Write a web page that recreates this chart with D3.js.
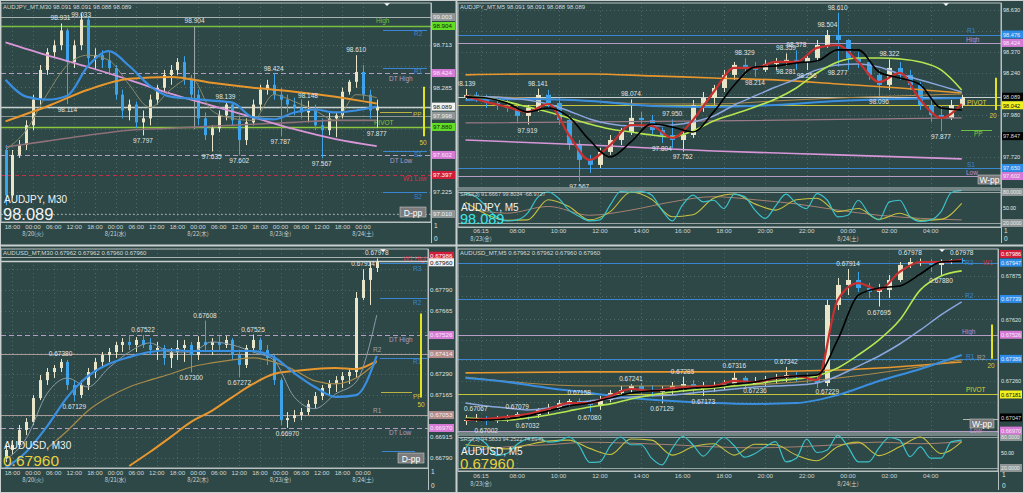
<!DOCTYPE html>
<html><head><meta charset="utf-8">
<script src="https://cdn.jsdelivr.net/npm/d3@7"></script>
<style>html,body{margin:0;padding:0;background:#2d4847;overflow:hidden}svg{display:block}</style>
</head><body><svg id="c" width="1024" height="493"></svg>
<script>
// ================= DATA =================
// AUDJPY M30 (top-left) – 2h candles from 2019-08-19 16:00
const tlStart = new Date(2019,7,19,16,0);
const tlOpen0 = 97.65;
const tlHigh = [97.70,97.65,97.75,97.95,98.21,98.51,98.68,98.76,98.931,98.88,98.76,99.033,98.99,98.68,98.66,98.64,98.51,98.26,98.16,98.14,98.05,98.21,98.31,98.46,98.51,98.58,98.60,98.41,98.26,98.03,97.90,98.05,98.139,98.12,98.00,97.97,98.16,98.31,98.36,98.424,98.28,98.21,98.18,98.16,98.148,98.11,97.97,98.03,98.03,98.28,98.36,98.610,98.51,98.26,98.16];
const tlLow = [97.09,97.16,97.57,97.65,97.85,98.11,98.41,98.58,98.66,98.114,98.48,98.66,98.51,98.46,98.48,98.41,98.16,97.97,97.95,97.87,97.797,97.90,98.11,98.24,98.31,98.41,98.31,98.16,97.90,97.75,97.635,97.83,97.95,97.90,97.602,97.70,97.90,98.05,98.21,98.16,97.787,98.03,98.00,97.97,97.93,97.85,97.567,97.80,97.78,97.97,98.21,98.28,98.16,97.97,97.877];
const tlClose = [97.19,97.60,97.70,97.90,98.16,98.46,98.64,98.71,98.86,98.54,98.71,98.97,98.58,98.61,98.56,98.48,98.21,98.05,98.11,97.93,97.97,98.16,98.28,98.41,98.46,98.54,98.36,98.21,97.97,97.80,97.87,98.00,98.11,97.95,97.75,97.93,98.11,98.26,98.31,98.21,98.16,98.11,98.08,98.03,98.05,97.90,97.85,97.97,98.00,98.24,98.34,98.44,98.21,98.05,98.089];
const tlBlue = [98.36,98.19,98.16,98.20,98.50,98.65,98.50,98.30,98.19,98.17,98.15,98.13,97.98,97.96,98.03,98.06,98.03,98.05,98.09]; // every 3 candles
const tlOlive = [97.65,97.85,98.21,98.51,98.61,98.56,98.31,98.08,98.26,98.38,98.05,97.97,97.95,98.21,98.14,98.05,97.95,98.21,98.18]; // every 3
const tlPink = [98.74,98.61,98.49,98.36,98.22,98.10,97.98,97.86,97.76,97.69]; // every 6
const tlOrange = [97.94,98.09,98.26,98.37,98.39,98.33,98.28,98.24,98.19,98.12]; // every 6
const tlMauve = [97.68,97.74,97.80,97.85,97.87,97.89,97.91,97.93,97.95,97.95]; // every 6
const tlPeaks = [[8,'h',98.931],[11,'h',99.033],[9,'l',98.114],[20,'l',97.797],[30,'l',97.635],[32,'h',98.139],[34,'l',97.602],[39,'h',98.424],[40,'l',97.787],[44,'h',98.148],[46,'l',97.567],[51,'h',98.610],[54,'l',97.877]];
const tlLevels = [['top',98.996],['High',98.905],['DT High',98.429],['Bid',98.089],['PPg',97.998],['PIVOT',97.883],['DT Low',97.600],['W1 Low',97.397],['base',97.002]];
const tlPivots = [['R2',98.864],['R1',98.480],['PP',98.035],['S1',97.640],['S2',97.225]];
const tlRange = [97.79,98.29];
const tlTicks = [98.713,98.500,98.285,98.070,97.860,97.650,97.435,97.225,97.010];
const tlBoxes = [['99.003',98.996,'grey'],['98.904',98.905,'green'],['98.424',98.429,'pink'],['98.089',98.089,'white'],['97.998',97.998,'grey'],['97.880',97.883,'green'],['97.602',97.600,'pink'],['97.397',97.397,'red'],['97.010',97.002,'grey']];
const tlVLine = [new Date(2019,7,21,23,0),98.904,97.86];

// AUDUSD M30 (bottom-left)
const blStart = new Date(2019,7,19,16,0);
const blOpen0 = 0.66790;
const blHigh = [0.66868,0.66897,0.66987,0.67028,0.67165,0.67284,0.67326,0.67344,0.67380,0.67374,0.67254,0.67254,0.67326,0.67385,0.67421,0.67445,0.67481,0.67504,0.67516,0.67510,0.67522,0.67504,0.67481,0.67463,0.67445,0.67493,0.67493,0.67481,0.67515,0.67608,0.67504,0.67516,0.67516,0.67504,0.67433,0.67463,0.67525,0.67505,0.67463,0.67403,0.67266,0.67064,0.67076,0.67088,0.67135,0.67183,0.67225,0.67254,0.67278,0.67302,0.67326,0.67778,0.67914,0.67957,0.67978];
const blLow = [0.66766,0.66808,0.66850,0.66927,0.66987,0.67135,0.67225,0.67266,0.67302,0.67195,0.67129,0.67147,0.67195,0.67266,0.67326,0.67362,0.67385,0.67421,0.67433,0.67421,0.67445,0.67403,0.67374,0.67344,0.67326,0.67374,0.67362,0.67300,0.67374,0.67433,0.67403,0.67421,0.67445,0.67374,0.67272,0.67326,0.67421,0.67403,0.67344,0.67225,0.66987,0.66970,0.67005,0.67016,0.67046,0.67088,0.67135,0.67165,0.67183,0.67207,0.67231,0.67266,0.67731,0.67701,0.67897];
const blClose = [0.66838,0.66868,0.66957,0.67005,0.67147,0.67254,0.67302,0.67326,0.67362,0.67225,0.67165,0.67225,0.67302,0.67362,0.67403,0.67421,0.67463,0.67481,0.67463,0.67493,0.67463,0.67433,0.67445,0.67385,0.67421,0.67445,0.67463,0.67403,0.67481,0.67463,0.67481,0.67463,0.67493,0.67403,0.67344,0.67445,0.67493,0.67433,0.67385,0.67254,0.67016,0.67028,0.67046,0.67064,0.67112,0.67159,0.67207,0.67231,0.67254,0.67278,0.67302,0.67743,0.67850,0.67921,0.67960];
const blBlue = [0.66731,0.66826,0.66976,0.67153,0.67278,0.67350,0.67391,0.67421,0.67433,0.67427,0.67427,0.67427,0.67427,0.67391,0.67296,0.67213,0.67154,0.67165,0.67398]; // every 3
const blOrange = [0.66743,0.66826,0.66915,0.67005,0.67071,0.67153,0.67231,0.67290,0.67308,0.67320,0.67326,0.67320,0.67368]; // every 3 from 18
const blOlive = [0.66846,0.66953,0.67072,0.67153,0.67213,0.67254,0.67290,0.67332,0.67356,0.67374,0.67386,0.67362,0.67314,0.67249,0.67231,0.67266,0.67362]; // every 3 from 6
const blGrey = [0.66779,0.66906,0.67171,0.67266,0.67213,0.67326,0.67421,0.67475,0.67421,0.67421,0.67481,0.67463,0.67421,0.67374,0.67153,0.67084,0.67171,0.67243,0.67641]; // every 3
const blPeaks = [[8,'h',0.67380],[10,'l',0.67129],[20,'h',0.67522],[27,'l',0.67300],[29,'h',0.67608],[34,'l',0.67272],[36,'h',0.67525],[41,'l',0.66970],[52,'h',0.67914],[54,'h',0.67978]];
const blLevels = [['W1 High',0.67987],['Bid',0.67960],['DT High',0.67522],['R2g',0.67409],['R1g',0.67046],['DT Low',0.66969]];
const blPivots = [['R3',0.67951],['R2',0.67742],['R1',0.67385],['PP',0.67183],['S',0.66832]];
const blRange = [0.67150,0.67650];
const blTicks = [0.67915,0.67790,0.67665,0.67540,0.67415,0.67290,0.67165,0.67040,0.66915,0.66790];
const blBoxes = [['0.67986',0.67994,'red'],['0.67960',0.67955,'white'],['0.67526',0.67522,'pink'],['0.67414',0.67409,'rose'],['0.67053',0.67046,'rose'],['0.66970',0.66969,'pink']];

// AUDJPY M5 (top-right) – 30 min candles from 2019-08-23 05:30
const trStart = new Date(2019,7,23,5,30);
const trOpen0 = 98.090;
const trHigh = [98.139,98.120,98.102,98.083,98.071,98.046,98.040,98.141,98.133,98.083,97.978,97.823,97.731,97.774,97.854,97.898,98.074,97.997,97.978,97.900,97.950,97.885,98.071,98.120,98.164,98.257,98.306,98.329,98.306,98.319,98.331,98.359,98.378,98.350,98.442,98.504,98.610,98.446,98.368,98.331,98.257,98.322,98.306,98.257,98.182,98.071,98.040,98.071,98.102];
const trLow = [98.071,98.059,98.021,98.009,97.997,97.935,97.919,97.997,98.021,97.916,97.762,97.567,97.619,97.650,97.731,97.792,97.854,97.898,97.854,97.804,97.774,97.752,97.836,97.997,98.040,98.120,98.195,98.226,98.214,98.244,98.257,98.281,98.257,98.256,98.306,98.393,98.277,98.257,98.269,98.195,98.096,98.133,98.195,98.133,98.009,97.935,97.877,97.947,98.021];
const trClose = [98.102,98.083,98.052,98.034,98.021,97.972,98.021,98.102,98.052,97.947,97.792,97.700,97.669,97.749,97.823,97.873,97.960,97.947,97.885,97.854,97.823,97.854,98.040,98.083,98.145,98.226,98.288,98.269,98.257,98.294,98.306,98.319,98.306,98.331,98.411,98.473,98.442,98.331,98.306,98.226,98.164,98.269,98.226,98.164,98.040,97.978,97.960,98.040,98.089];
const trBlack = [98.090,98.083,98.052,97.997,98.021,97.966,97.823,97.718,97.811,97.922,97.904,97.873,97.997,98.164,98.275,98.281,98.300,98.312,98.381,98.381,98.244,98.207,98.164,98.021,98.009]; // every 2
const trRed = [98.096,98.059,98.028,97.997,98.046,97.854,97.700,97.792,97.916,97.910,97.836,97.947,98.120,98.269,98.269,98.306,98.306,98.393,98.411,98.306,98.182,98.238,98.071,97.960,98.046];
const trLime = [98.090,98.083,98.059,98.028,97.997,97.960,97.922,97.891,97.873,97.854,97.842,97.879,97.941,97.984,98.028,98.077,98.145,98.238,98.306,98.331,98.331,98.325,98.306,98.257,98.133];
const trSteel = [98.090,98.090,98.083,98.071,98.046,98.003,97.953,97.922,97.910,97.910,97.916,97.935,97.972,98.040,98.096,98.151,98.201,98.257,98.288,98.294,98.275,98.232,98.195,98.158,98.120];
const trOrange = [98.226,98.232,98.232,98.220,98.207,98.195,98.170,98.145,98.114]; // every 6
const trBrown = [98.096,98.083,98.065,98.046,98.046,98.065,98.083,98.096,98.108];
const trBlue = [98.071,98.077,98.065,98.034,98.028,98.040,98.065,98.077,98.083];
const trPink = [97.823,97.792,97.755,97.731,97.706]; // every 12
const trMauve = [97.929,97.941,97.960]; // every 24
const trPeaks = [[0,'h',98.139],[6,'l',97.919],[7,'h',98.141],[11,'l',97.567],[16,'h',98.074],[19,'l',97.804],[20,'h',97.950],[21,'l',97.752],[27,'h',98.329],[28,'l',98.214],[31,'h',98.359],[31,'l',98.281],[32,'h',98.378],[33,'l',98.256],[35,'h',98.504],[36,'h',98.610],[36,'l',98.277],[40,'l',98.096],[41,'h',98.322],[46,'l',97.877]];
const trLevels = [['R1',98.476],['High',98.424],['Bid',98.089],['PIVOT',98.042],['S1',97.650],['Low',97.602]];
const trPivots = [['PP',97.885]];
const trRange = [98.009,98.209];
const trTicks = [98.630,98.500,98.370,98.240,98.110,97.980,97.850,97.720];
const trBoxes = [['98.476',98.476,'blue'],['98.424',98.424,'pink'],['98.089',98.091,'black'],['98.042',98.038,'yellow'],['97.847',97.847,'black'],['97.650',97.650,'blue'],['97.602',97.600,'pink']];
const trCyan = [77,71,52,32,24,26,39,70,80,68,45,33,24,26,55,81,80,81,74,45,24,55,74,61,64,48,76,71,45,29,53,76,58,48,77,64,32,35,64,39,26,61,64,32,23,26,42,79,83];
const trYellow = [60,37,25,26,65,52,26,42,80,66,32,36,68,76,57,45,65,68,42,48,27,39,25,27,58]; // every 2
const trSlow = [48,39,52,35,45,61,71,65,57,45,35,29,26]; // every 4

// AUDUSD M5 (bottom-right)
const brStart = new Date(2019,7,23,5,30);
const brOpen0 = 0.67032;
const brHigh = [0.67061,0.67067,0.67055,0.67056,0.67062,0.67079,0.67070,0.67102,0.67126,0.67149,0.67155,0.67158,0.67150,0.67173,0.67207,0.67231,0.67241,0.67248,0.67236,0.67231,0.67254,0.67285,0.67266,0.67254,0.67254,0.67266,0.67316,0.67289,0.67283,0.67289,0.67301,0.67342,0.67313,0.67307,0.67289,0.67733,0.67862,0.67914,0.67897,0.67833,0.67827,0.67879,0.67955,0.67978,0.67975,0.67972,0.67970,0.67972,0.67978];
const brLow = [0.67003,0.67021,0.67002,0.67015,0.67021,0.67032,0.67032,0.67044,0.67067,0.67091,0.67108,0.67120,0.67080,0.67091,0.67137,0.67173,0.67190,0.67184,0.67167,0.67129,0.67178,0.67196,0.67184,0.67173,0.67196,0.67207,0.67231,0.67219,0.67236,0.67231,0.67242,0.67254,0.67254,0.67248,0.67219,0.67229,0.67675,0.67762,0.67780,0.67745,0.67695,0.67745,0.67838,0.67920,0.67932,0.67897,0.67880,0.67943,0.67949];
const brClose = [0.67032,0.67044,0.67026,0.67038,0.67050,0.67067,0.67061,0.67091,0.67102,0.67131,0.67143,0.67137,0.67120,0.67149,0.67190,0.67207,0.67231,0.67207,0.67196,0.67207,0.67231,0.67242,0.67213,0.67219,0.67231,0.67242,0.67278,0.67242,0.67254,0.67272,0.67278,0.67295,0.67283,0.67272,0.67248,0.67704,0.67821,0.67850,0.67803,0.67780,0.67792,0.67850,0.67938,0.67955,0.67955,0.67938,0.67961,0.67967,0.67960];
const brBlack = [0.67038,0.67032,0.67038,0.67056,0.67085,0.67114,0.67131,0.67161,0.67190,0.67202,0.67207,0.67219,0.67225,0.67242,0.67254,0.67277,0.67289,0.67295,0.67500,0.67762,0.67803,0.67815,0.67885,0.67955,0.67961];
const brRed = [0.67032,0.67038,0.67050,0.67067,0.67096,0.67131,0.67131,0.67173,0.67213,0.67202,0.67219,0.67225,0.67231,0.67260,0.67254,0.67277,0.67289,0.67266,0.67733,0.67832,0.67792,0.67897,0.67955,0.67955,0.67967];
const brLime = [0.67044,0.67038,0.67032,0.67044,0.67061,0.67085,0.67108,0.67126,0.67155,0.67178,0.67196,0.67207,0.67219,0.67231,0.67242,0.67260,0.67272,0.67289,0.67336,0.67412,0.67500,0.67616,0.67792,0.67873,0.67903];
const brSteel = [0.67131,0.67114,0.67102,0.67091,0.67102,0.67126,0.67143,0.67155,0.67167,0.67173,0.67178,0.67190,0.67202,0.67213,0.67225,0.67231,0.67236,0.67248,0.67289,0.67347,0.67406,0.67476,0.67558,0.67646,0.67722];
const brBlue = [0.67277,0.67254,0.67219,0.67190,0.67161,0.67143,0.67131,0.67126,0.67131,0.67178,0.67260,0.67330,0.67412]; // every 4
const brOrange = [0.67307,0.67313,0.67313,0.67324,0.67371]; // every 12
const brBrown = [0.67283,0.67231,0.67231,0.67277,0.67383];
const brPeaks = [[1,'h',0.67067],[2,'l',0.67002],[5,'h',0.67079],[6,'l',0.67032],[11,'h',0.67158],[12,'l',0.67080],[16,'h',0.67241],[19,'l',0.67129],[21,'h',0.67285],[23,'l',0.67173],[26,'h',0.67316],[28,'l',0.67236],[31,'h',0.67342],[35,'l',0.67229],[37,'h',0.67914],[40,'l',0.67695],[43,'h',0.67978],[46,'l',0.67880],[48,'h',0.67978]];
const brLevels = [['R3',0.67951],['R2',0.67739],['High',0.67526],['R1',0.67389],['PIVOT',0.67181],['Low',0.66970]];
const brPivots = [['Lg',0.67038]];
const brRange = [0.67390,0.67590];
const brTicks = [0.67875,0.67755,0.67620,0.67500,0.67380,0.67260,0.67140];
const brBoxes = [['0.67986',0.68002,'red'],['0.67947',0.67951,'blue'],['0.67739',0.67739,'blue'],['0.67526',0.67530,'pink'],['0.67389',0.67389,'blue'],['0.67181',0.67181,'yellow'],['0.67047',0.67047,'black'],['0.66970',0.66970,'pink']];
const brCyan = [58,79,67,44,48,66,77,79,70,72,80,63,31,32,63,80,65,65,39,26,58,81,65,43,63,79,63,41,48,61,71,32,39,76,50,55,83,61,32,32,59,79,74,42,61,39,39,71,74];
const brYellow = [65,61,57,65,72,74,58,46,76,74,45,61,67,45,66,65,45,34,61,70,44,61,80,48,71];
const brSlow = [52,61,65,70,68,65,61,59,61,65,70,67,71];
const weekdays = ['日','月','火','水','木','金','土'];

// ================= RENDER =================
const UP='#e9e5c9', DN='#3da3ea';
const FONT='"Liberation Sans","DejaVu Sans",Arial,sans-serif';
const CJK='"Noto Sans CJK JP","Liberation Sans",sans-serif';
const BOX={grey:['#8d9595','#f0f0f0'],green:['#62dc24','#102010'],pink:['#d67ad6','#f4eaf4'],white:['#f2f2f2','#111'],red:['#d01e3a','#fff'],blue:['#2b8be6','#eef'],yellow:['#f2f020','#111'],black:['#000','#ddd'],rose:['#b48c8c','#f4eeee']};
const svg=d3.select('#c');
const defs=svg.append('defs');
svg.append('rect').attr('width',1024).attr('height',493).attr('fill','#2d4847');

function T(g,x,y,s,col,size,anchor,font,weight){
  return g.append('text').attr('x',x).attr('y',y).text(s).attr('fill',col||'#d8dcdc')
    .attr('font-size',size||7).attr('text-anchor',anchor||'start').attr('font-family',font||FONT).attr('font-weight',weight||'normal');
}
function mk(open0,H,L,C,start,stepMin){
  return C.map((c,i)=>({t:new Date(+start+i*stepMin*60000),o:i?C[i-1]:open0,h:H[i],l:L[i],c}));
}
const leftT=d3.scaleTime().domain([new Date(2019,7,19,14,24),new Date(2019,7,24,0,0)]).range([0,363]);
const rightT=d3.scaleTime().domain([new Date(2019,7,24,0,0),new Date(2019,7,24,4,0)]).range([848,930.7]);
const leftTicks=d3.timeHour.every(6).range(new Date(2019,7,19,18),new Date(2019,7,24,1));
const rightTicks=[new Date(2019,7,23,6,15)].concat(d3.timeHour.every(2).range(new Date(2019,7,23,8),new Date(2019,7,24,5)));
const fmtH=d3.timeFormat('%H:%M');
const dateLbl=d=>`${d.getMonth()+1}/${d.getDate()}(${weekdays[d.getDay()]})`;

function panel(c){
  const g=svg.append('g');
  const P=c.plot, x=c.x, fs=c.axisFont;
  const y=d3.scaleLinear().domain(c.pDomain).range([P.y0,P.y1]);
  defs.append('clipPath').attr('id','cp'+c.id).append('rect').attr('x',P.x0).attr('y',P.y0).attr('width',P.x1-P.x0).attr('height',P.y1-P.y0);
  const inner=g.append('g').attr('clip-path',`url(#cp${c.id})`);
  const cs=c.candles;
  inner.append('g').selectAll('line').data(c.ticks).join('line')
    .attr('x1',P.x0).attr('x2',P.x1).attr('y1',d=>Math.round(y(d))+.5).attr('y2',d=>Math.round(y(d))+.5)
    .attr('stroke','#4d6a68').attr('stroke-dasharray','1,3');
  inner.append('g').selectAll('line').data(c.timeTicks).join('line')
    .attr('x1',d=>Math.round(x(d))+.5).attr('x2',d=>Math.round(x(d))+.5).attr('y1',P.y0).attr('y2',P.y1)
    .attr('stroke','#4d6a68').attr('stroke-dasharray','1,3');
  c.levels.forEach(([name,p])=>{
    const s=c.lstyle[name]||{color:'#999'};
    inner.append('line').attr('x1',s.x0??P.x0).attr('x2',s.x1??P.x1).attr('y1',Math.round(y(p))+.5).attr('y2',Math.round(y(p))+.5)
      .attr('stroke',s.color).attr('stroke-width',s.w||1).attr('stroke-dasharray',s.dash||null);
    if(s.label) T(inner,s.lx,y(p)+s.dy,s.label,s.lc||s.color,6.5);
  });
  if(c.vline){
    inner.append('line').attr('x1',x(c.vline[0])).attr('x2',x(c.vline[0])).attr('y1',y(c.vline[1])).attr('y2',y(c.vline[2])).attr('stroke','#a0aaaa');
    T(inner,x(c.vline[0]),y(c.vline[1])-3,d3.format('.3f')(c.vline[1]),'#e0e0e0',6.5,'middle');
  }
  inner.append('g').selectAll('line').data(cs).join('line')
    .attr('x1',d=>Math.round(x(d.t))+.5).attr('x2',d=>Math.round(x(d.t))+.5).attr('y1',d=>y(d.h)).attr('y2',d=>y(d.l))
    .attr('stroke',d=>d.c>=d.o?UP:DN);
  inner.append('g').selectAll('rect').data(cs).join('rect')
    .attr('x',d=>Math.round(x(d.t))+.5-c.bw/2).attr('y',d=>y(Math.max(d.o,d.c)))
    .attr('width',c.bw).attr('height',d=>Math.max(1,Math.abs(y(d.o)-y(d.c)))).attr('fill',d=>d.c>=d.o?UP:DN);
  c.mas.forEach(m=>{
    const pts=m.vals.map((v,k)=>({t:cs[(m.start||0)+k*m.step].t,v}));
    inner.append('path').datum(pts).attr('d',d3.line().x(p=>x(p.t)).y(p=>y(p.v)).curve(d3.curveMonotoneX))
      .attr('fill','none').attr('stroke',m.color).attr('stroke-width',m.w).attr('stroke-linejoin','round');
  });
  c.peaks.forEach(([i,type,v])=>{
    const ly=type==='h'?Math.max(y(v)-3,c.peakMinY):y(v)+8;
    T(inner,x(cs[i].t),ly,d3.format(c.fmt)(v),'#e2e4e4',6.5,'middle');
  });
  g.append('line').attr('x1',c.barX).attr('x2',c.barX).attr('y1',y(c.range[0])).attr('y2',y(c.range[1])).attr('stroke','#e4e41e').attr('stroke-width',2);
  T(g,c.barX+c.barLx,y(c.range[0])+c.barLy,c.rangeLabel,'#d8d03a',6.5,'middle');
  (c.extra||[]).forEach(e=>T(g,e[0],y(e[1])+e[2],e[3],e[4],6.5));
  const b=c.btn; g.append('rect').attr('x',b[0]).attr('y',b[1]).attr('width',b[2]).attr('height',b[3]).attr('fill','#7c7c7c').attr('stroke','#c8c8c8').attr('stroke-width',.6);
  T(g,b[0]+b[2]/2,b[1]+b[3]-1.5,b[4],'#ffffff',8.5,'middle');
  g.append('path').attr('d',`M${c.mark-3},${P.y0}L${c.mark+3},${P.y0}L${c.mark},${P.y0+3}Z`).attr('fill','#ffffff');
  if(c.osc){
    const O=c.osc;
    const yo=d3.scaleLinear().domain([80,20]).range([O.y80,O.y20]);
    defs.append('clipPath').attr('id','co'+c.id).append('rect').attr('x',P.x0).attr('y',O.y0).attr('width',P.x1-P.x0).attr('height',O.y1-O.y0);
    const og=g.append('g').attr('clip-path',`url(#co${c.id})`);
    og.append('g').selectAll('line').data(c.timeTicks).join('line')
      .attr('x1',d=>Math.round(x(d))+.5).attr('x2',d=>Math.round(x(d))+.5).attr('y1',O.y0).attr('y2',O.y1)
      .attr('stroke','#4d6a68').attr('stroke-dasharray','1,3');
    [80,20].forEach(v=>og.append('line').attr('x1',P.x0).attr('x2',P.x1).attr('y1',Math.round(yo(v))+.5).attr('y2',Math.round(yo(v))+.5).attr('stroke','#9aa4a4'));
    O.series.forEach(s=>{
      const pts=s.vals.map((v,k)=>({t:cs[k*s.step].t,v}));
      og.append('path').datum(pts).attr('d',d3.line().x(p=>x(p.t)).y(p=>yo(p.v)).curve(d3.curveMonotoneX))
        .attr('fill','none').attr('stroke',s.color).attr('stroke-width',s.w);
    });
    T(g,P.x0+2,O.y0+6,O.label,'#d0d4d4',5.5);
    g.append('rect').attr('x',P.x0).attr('y',O.y0).attr('width',P.x1-P.x0).attr('height',O.y1-O.y0).attr('fill','none').attr('stroke','#b7bfbf');
    [[80,'80.0000',true],[50,'50.00',false],[20,'20.0000',true]].forEach(([v,s,box])=>{
      if(box) g.append('rect').attr('x',c.axisX-1).attr('y',yo(v)-4).attr('width',c.boxW).attr('height',8).attr('fill','#8d9595');
      T(g,c.axisX,yo(v)+2.2,s,'#eeeeee',fs-0.4);
    });
  }
  g.append('rect').attr('x',P.x0).attr('y',P.y0).attr('width',P.x1-P.x0).attr('height',P.y1-P.y0).attr('fill','none').attr('stroke','#b7bfbf');
  g.append('line').attr('x1',P.x0).attr('x2',P.x1).attr('y1',c.subY+.5).attr('y2',c.subY+.5).attr('stroke','#b7bfbf');
  g.append('line').attr('x1',P.x1+.5).attr('x2',P.x1+.5).attr('y1',P.y0).attr('y2',c.bottom).attr('stroke','#b7bfbf');
  const boxY=c.boxes.map(b=>y(b[1]));
  c.ticks.filter(v=>boxY.every(by=>Math.abs(by-y(v))>8)).forEach(v=>T(g,c.axisX,y(v)+2.3,d3.format(c.fmt)(v),'#dfe3e3',fs));
  c.boxes.forEach(([s,p,k])=>{
    g.append('rect').attr('x',c.axisX-1).attr('y',y(p)-4).attr('width',c.boxW).attr('height',8).attr('fill',BOX[k][0]);
    T(g,c.axisX,y(p)+2.3,s,BOX[k][1],fs);
  });
  T(g,c.axisX+1,c.subY+6,'1','#dfe3e3',6.5);
  T(g,c.axisX+1,c.bottom-2,'0','#dfe3e3',6.5);
  c.timeTicks.forEach(d=>{
    T(g,x(d),c.timeY,fmtH(d),'#cfd6d6',6.2,'middle');
    if(c.dateAt(d)) T(g,x(d),c.timeY+7.5,dateLbl(d),'#cfd6d6',5.8,'middle',CJK);
  });
  T(g,P.x0+2,P.y0+6,c.title,'#d4d8d8',6);
  T(g,c.sym[0],c.sym[1],c.sym[2],'#f2f2f2',c.sym[3]);
  T(g,c.px[0],c.px[1],c.px[2],c.px[3],c.px[4]);
}

const BL1='#3a86d0', PK='#b49cc4', YL='#c8c040';
panel({id:'tl',plot:{x0:1,x1:431,y0:3,y1:222},pDomain:[99.138,96.921],x:leftT,timeTicks:leftTicks,peakMinY:17,
  dateAt:d=>d.getHours()===0,timeY:228.5,subY:222,bottom:243,axisX:433,boxW:23,axisFont:6.2,bw:3,fmt:'.3f',
  candles:mk(tlOpen0,tlHigh,tlLow,tlClose,tlStart,120),ticks:tlTicks,boxes:tlBoxes,peaks:tlPeaks,vline:tlVLine,
  levels:tlLevels.concat(tlPivots),
  lstyle:{top:{color:'#a9b1b1'},High:{color:'#78c040',w:1.3,label:'High',lx:376,dy:-3},'DT High':{color:PK,dash:'5,3',label:'DT High',lx:389,dy:8},
    Bid:{color:'#c9d0d0',w:1.3},PPg:{color:'#8b9797'},PIVOT:{color:'#8cc63f',w:1.3,label:'PIVOT',lx:374,dy:-2},'DT Low':{color:PK,dash:'5,3',label:'DT Low',lx:390,dy:8},
    'W1 Low':{color:'#c43048',dash:'4,3',label:'W1 Low',lx:403,dy:6,lc:'#d8304a'},base:{color:'#8b9797',dash:'2,2'},
    R2:{color:BL1,x0:383,x1:427,label:'R2',lx:414,dy:6},R1:{color:BL1,x0:383,x1:427,label:'R1',lx:414,dy:6},PP:{color:'#b8b040',x0:380,x1:412,label:'PP',lx:413,dy:5,lc:YL},
    S1:{color:BL1,x0:383,x1:427,label:'S1',lx:414,dy:6},S2:{color:BL1,x0:383,x1:427,label:'S2',lx:414,dy:7}},
  mas:[{vals:tlMauve,step:6,color:'#8e7078',w:1.6},{vals:tlPink,step:6,color:'#d896d8',w:1.8},{vals:tlOlive,step:3,color:'#8c8a6a',w:1},
    {vals:tlOrange,step:6,color:'#e8962e',w:2},{vals:tlBlue,step:3,color:'#3a8ee0',w:2.2}],
  range:tlRange,rangeLabel:'50',barX:424,barLx:-1,barLy:9,btn:[400,207,26,10,'D-pp'],mark:387,
  title:'AUDJPY_MT,M30  98.091 98.091 98.088 98.089',sym:[4,202.5,'AUDJPY, M30',10],px:[3,219.5,'98.089','#f2f2f2',16.5]});

panel({id:'bl',plot:{x0:1,x1:428,y0:249,y1:468},pDomain:[0.68034,0.66731],x:leftT,timeTicks:leftTicks,peakMinY:255,
  dateAt:d=>d.getHours()===0,timeY:474.5,subY:468,bottom:490,axisX:430,boxW:25,axisFont:6.2,bw:3,fmt:'.5f',
  candles:mk(blOpen0,blHigh,blLow,blClose,blStart,120),ticks:blTicks,boxes:blBoxes,peaks:blPeaks,
  levels:blLevels.concat(blPivots),
  lstyle:{'W1 High':{color:'#a9b1b1',label:'W1 High',lx:403,dy:4,lc:'#d8304a'},Bid:{color:'#c9d0d0',w:1.3},'DT High':{color:PK,dash:'5,3',label:'DT High',lx:389,dy:7},
    R2g:{color:'#a99a9a',label:'R2',lx:373,dy:-2,lc:'#a8a0a0'},R1g:{color:'#a99a9a',label:'R1',lx:373,dy:-2,lc:'#a8a0a0'},'DT Low':{color:PK,dash:'5,3',label:'DT Low',lx:389,dy:7},
    R3:{color:BL1,x0:380,x1:427,label:'R3',lx:413,dy:8},R2:{color:BL1,x0:380,x1:427,label:'R2',lx:413,dy:7},R1:{color:BL1,x0:380,x1:427,label:'R1',lx:413,dy:6},
    PP:{color:'#b8b040',x0:381,x1:412,label:'PP',lx:413,dy:7,lc:YL},S:{color:BL1,x0:382,x1:415}},
  mas:[{vals:blOrange,step:3,start:18,color:'#e8962e',w:2},{vals:blOlive,step:3,start:6,color:'#a88a4a',w:1.2},
    {vals:blGrey,step:3,color:'#8a9aa6',w:1},{vals:blBlue,step:3,color:'#3a8ee0',w:2.2}],
  range:blRange,rangeLabel:'50',barX:421,barLx:0,barLy:9,btn:[398,453,26,10,'D-pp'],mark:383,
  title:'AUDUSD_MT,M30  0.67962 0.67962 0.67960 0.67960',sym:[4,449,'AUDUSD, M30',10],px:[3,465.5,'0.67960','#e8d040',15.5]});

panel({id:'tr',plot:{x0:458,x1:1001,y0:3,y1:188},pDomain:[98.671,97.526],x:rightT,timeTicks:rightTicks,peakMinY:9,
  dateAt:d=>d.getMinutes()===15||d.getHours()===0,timeY:233,subY:227,bottom:243,axisX:1003,boxW:21,axisFont:5.6,bw:5,fmt:'.3f',
  candles:mk(trOpen0,trHigh,trLow,trClose,trStart,30),ticks:trTicks,boxes:trBoxes,peaks:trPeaks,
  levels:trLevels.concat(trPivots),
  lstyle:{R1:{color:BL1,label:'R1',lx:967,dy:-2},High:{color:PK,label:'High',lx:966,dy:-1,lc:'#c88ad0'},Bid:{color:'#c9d0d0',w:1.2},
    PIVOT:{color:'#c8c43a',w:1.2,label:'PIVOT',lx:967,dy:0,lc:'#d8d43a'},S1:{color:BL1,label:'S1',lx:967,dy:-1},Low:{color:PK,label:'Low',lx:966,dy:-1,lc:'#c88ad0'},
    PP:{color:'#6cc040',x0:961,x1:992,label:'PP',lx:974,dy:6,lc:'#8cc63f'}},
  mas:[{vals:trPink,step:12,color:'#d896d8',w:1.6},{vals:trMauve,step:24,color:'#9a7a86',w:1.2},{vals:trOrange,step:6,color:'#e8962e',w:1.6},
    {vals:trBrown,step:6,color:'#b08a4a',w:1},{vals:trBlue,step:6,color:'#3a8ee0',w:2},{vals:trSteel,step:2,color:'#8aa6dc',w:1.5},
    {vals:trLime,step:2,color:'#b6e650',w:1.6},{vals:trRed,step:2,color:'#c83030',w:2.2},{vals:trBlack,step:2,color:'#000000',w:1.6}],
  range:trRange,rangeLabel:'20',barX:996,barLx:-3,barLy:8,btn:[978,175,23,9,'W-pp'],mark:946,
  osc:{y0:190,y1:227,y80:192,y20:223,label:'SRSI(3) 91.6667 99.8034 -68.9727',
    series:[{vals:trSlow,step:4,color:'#a88070',w:1},{vals:trYellow,step:2,color:'#c8c040',w:1.1},{vals:trCyan,step:1,color:'#3cc0c8',w:1.2}]},
  title:'AUDJPY_MT,M5  98.091 98.091 98.088 98.089',sym:[461,211,'AUDJPY, M5',10],px:[460,224,'98.089','#3ee6e6',14.5]});

panel({id:'br',plot:{x0:458,x1:998,y0:249,y1:433},pDomain:[0.68031,0.66956],x:rightT,timeTicks:rightTicks,peakMinY:255,
  dateAt:d=>d.getMinutes()===15||d.getHours()===0,timeY:478,subY:471,bottom:490,axisX:1001,boxW:22,axisFont:5.6,bw:5,fmt:'.5f',
  candles:mk(brOpen0,brHigh,brLow,brClose,brStart,30),ticks:brTicks,boxes:brBoxes,peaks:brPeaks,
  levels:brLevels.concat(brPivots),
  lstyle:{R3:{color:BL1,label:'R3',lx:965,dy:2},R2:{color:BL1,label:'R2',lx:965,dy:-1},High:{color:PK,label:'High',lx:962,dy:-1,lc:'#c88ad0'},
    R1:{color:BL1,label:'R1',lx:966,dy:0},PIVOT:{color:'#c8c43a',w:1.2,label:'PIVOT',lx:966,dy:-2,lc:'#d8d43a'},Low:{color:PK,label:'Low',lx:970,dy:2,lc:'#c88ad0'},
    Lg:{color:'#b0b8b8',x0:963,x1:998}},
  extra:[[983,0.67951,2,'W1','#d8304a'],[977,0.67389,1,'R2','#a8a0a0']],
  mas:[{vals:brOrange,step:12,color:'#e8962e',w:1.6},{vals:brBrown,step:12,color:'#b08a4a',w:1},{vals:brBlue,step:4,color:'#3a8ee0',w:2},
    {vals:brSteel,step:2,color:'#8aa6dc',w:1.5},{vals:brLime,step:2,color:'#b6e650',w:1.6},{vals:brRed,step:2,color:'#c83030',w:2.2},{vals:brBlack,step:2,color:'#000000',w:1.6}],
  range:brRange,rangeLabel:'20',barX:992,barLx:-1,barLy:9,btn:[970,419,24,9,'W-pp'],mark:942,
  osc:{y0:435,y1:471,y80:437,y20:468,label:'SRSI(3) 94.5833 94.2522 74.8941',
    series:[{vals:brSlow,step:4,color:'#a88070',w:1},{vals:brYellow,step:2,color:'#c8c040',w:1.1},{vals:brCyan,step:1,color:'#3cc0c8',w:1.2}]},
  title:'AUDUSD_MT,M5  0.67962 0.67962 0.67960 0.67960',sym:[461,455,'AUDUSD, M5',10],px:[460,469,'0.67960','#e8d040',15]});

svg.append('line').attr('x1',456.5).attr('x2',456.5).attr('y1',0).attr('y2',493).attr('stroke','#c9cfcf').attr('stroke-width',2);
svg.append('line').attr('x1',0).attr('x2',1024).attr('y1',245.5).attr('y2',245.5).attr('stroke','#c9cfcf').attr('stroke-width',2);
svg.append('rect').attr('x',.5).attr('y',.5).attr('width',1023).attr('height',492).attr('fill','none').attr('stroke','#c9cfcf');
</script></body></html>
